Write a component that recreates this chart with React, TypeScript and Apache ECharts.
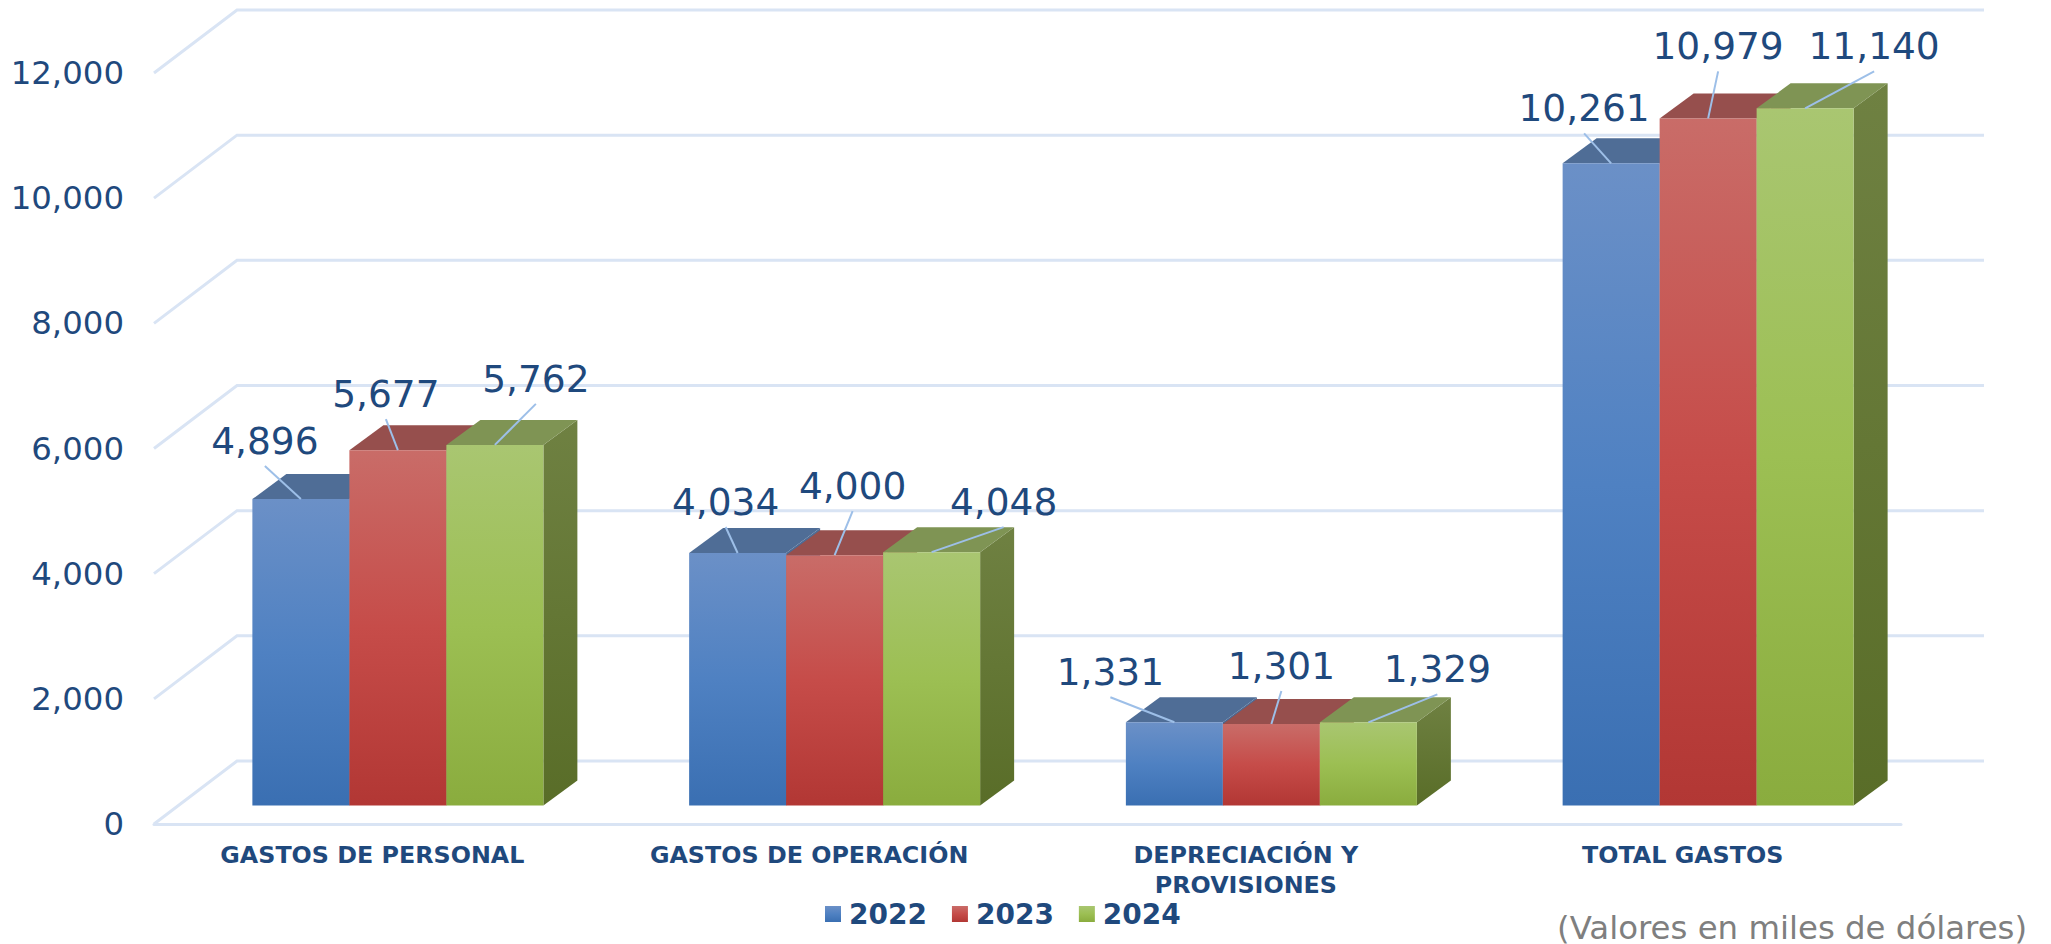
import React, { useEffect, useRef } from "react";
import * as echarts from "echarts";

const categories = ["GASTOS DE PERSONAL", "GASTOS DE OPERACIÓN", "DEPRECIACIÓN Y\nPROVISIONES", "TOTAL GASTOS"];
const years = ["2022", "2023", "2024"];
const values2022 = [4896, 4034, 1331, 10261];
const values2023 = [5677, 4000, 1301, 10979];
const values2024 = [5762, 4048, 1329, 11140];
const yTicks = [0, 2000, 4000, 6000, 8000, 10000, 12000];

// Leader-line ends, relative to the middle of each bar's top front edge (px)
const leaders2022 = [[-36, -33], [-12, -26], [-64, -25], [-27, -30]];
const leaders2023 = [[-12, -31], [18, -44], [10, -33], [10, -47]];
const leaders2024 = [[41, -41], [72, -25], [69, -28], [69, -37]];

const FONT = "'DejaVu Sans', Verdana, sans-serif";
const NAVY = "#1F497D";

const palette = [
  { stops: ["#6B90C7", "#4F81C2", "#3A6FB2"], top: "#4F6D96", side: ["#4F6D96", "#2F5487"] },
  { stops: ["#C96C68", "#C64C49", "#B23734"], top: "#964F4D", side: ["#8C4A48", "#7A2A28"] },
  { stops: ["#A9C671", "#9CBF53", "#8AAC3E"], top: "#7F9454", side: ["#6F8142", "#596D28"] },
];

const LEFT = 154;
const RIGHT = 1901;
const TOP = 73;
const BOTTOM = 824;
const FLOOR_DX = 83;
const FLOOR_DY = 63;
const BAR_SHIFT_X = 25.5;
const BAR_SHIFT_Y = 18.5;
const BAR_W = 97;
const DEPTH_X = 34;
const DEPTH_Y = 25;
const GRID_COLOR = "#D9E4F4";

const vGrad = (c: string[]) =>
  new echarts.graphic.LinearGradient(0, 0, 0, 1, c.map((color, i) => ({ offset: i / (c.length - 1), color })));

function barSeries(name: string, idx: number, vals: number[], leaders: number[][]) {
  const pal = palette[idx];
  return {
    type: "custom",
    name,
    clip: false,
    itemStyle: { color: vGrad(pal.stops) },
    encode: { x: 0, y: 1 },
    data: vals.map((v, i) => [i, v]),
    renderItem: (_p: any, api: any) => {
      const cat = api.value(0);
      const v = api.value(1);
      const [cx, rawTop] = api.coord([cat, v]);
      const [, rawBase] = api.coord([cat, 0]);
      const x = cx - 1.5 * BAR_W + idx * BAR_W + BAR_SHIFT_X;
      const yt = rawTop - BAR_SHIFT_Y;
      const yb = rawBase - BAR_SHIFT_Y;
      const mid = x + BAR_W / 2;
      const [ldx, ldy] = leaders[cat];
      return {
        type: "group",
        children: [
          {
            type: "polygon",
            shape: { points: [[x + BAR_W, yt], [x + BAR_W + DEPTH_X, yt - DEPTH_Y], [x + BAR_W + DEPTH_X, yb - DEPTH_Y], [x + BAR_W, yb]] },
            style: { fill: vGrad(pal.side) },
          },
          {
            type: "polygon",
            shape: { points: [[x, yt], [x + DEPTH_X, yt - DEPTH_Y], [x + BAR_W + DEPTH_X, yt - DEPTH_Y], [x + BAR_W, yt]] },
            style: { fill: pal.top },
          },
          { type: "rect", shape: { x, y: yt, width: BAR_W, height: yb - yt }, style: { fill: vGrad(pal.stops) } },
          {
            type: "line",
            z2: 20,
            shape: { x1: mid, y1: yt, x2: mid + ldx, y2: yt + ldy },
            style: { stroke: "#9DBFE8", lineWidth: 2 },
          },
          {
            type: "text",
            z2: 21,
            style: {
              text: v.toLocaleString("en-US"),
              x: mid + ldx,
              y: yt + ldy - 25,
              textAlign: "center",
              textVerticalAlign: "middle",
              fill: NAVY,
              fontSize: 37.5,
              fontFamily: FONT,
            },
          },
        ],
      };
    },
  };
}

export default function App() {
  const ref = useRef<HTMLDivElement>(null);
  useEffect(() => {
    document.body.style.margin = "0";
    const chart = echarts.init(ref.current!, undefined, { renderer: "svg" });
    chart.setOption({
      animation: false,
      backgroundColor: "#ffffff",
      title: {
        text: "(Valores en miles de dólares)",
        left: 1557,
        top: 912,
        padding: 0,
        textStyle: { color: "#7F7F7F", fontSize: 32.4, fontWeight: "normal", fontFamily: FONT },
      },
      legend: {
        left: 825,
        top: 900,
        padding: 0,
        icon: "rect",
        itemWidth: 16,
        itemHeight: 16,
        itemGap: 25,
        selectedMode: false,
        data: years.map((y, i) => ({ name: y, itemStyle: { color: vGrad(palette[i].stops) } })),
        textStyle: { color: NAVY, fontSize: 28, fontWeight: "bold", fontFamily: FONT, padding: [0, 0, 0, 3] },
      },
      grid: { left: LEFT, width: RIGHT - LEFT, top: TOP, height: BOTTOM - TOP, containLabel: false },
      xAxis: {
        type: "category",
        data: categories,
        axisTick: { show: false },
        axisLine: { show: true, lineStyle: { color: GRID_COLOR, width: 3 } },
        axisLabel: {
          interval: 0,
          margin: 16,
          color: NAVY,
          fontSize: 23.8,
          lineHeight: 30,
          fontWeight: "bold",
          fontFamily: FONT,
        },
      },
      yAxis: {
        type: "value",
        min: 0,
        max: 12000,
        interval: 2000,
        axisLine: { show: false },
        axisTick: { show: false },
        splitLine: { show: false },
        axisLabel: {
          margin: 30,
          color: NAVY,
          fontSize: 32.4,
          fontFamily: FONT,
          padding: [5, 0, 0, 0],
          formatter: (v: number) => v.toLocaleString("en-US"),
        },
      },
      series: [
        {
          type: "custom",
          name: "wall",
          clip: false,
          silent: true,
          encode: { x: 0, y: 1 },
          data: yTicks.map((t) => [0, t]),
          renderItem: (p: any, api: any) => {
            const y = api.coord([0, api.value(1)])[1];
            const xa = p.coordSys.x;
            const xb = xa + p.coordSys.width;
            return {
              type: "polyline",
              shape: { points: [[xa, y], [xa + FLOOR_DX, y - FLOOR_DY], [xb + FLOOR_DX, y - FLOOR_DY]] },
              style: { stroke: GRID_COLOR, lineWidth: 3, fill: "none" },
            };
          },
        },
        barSeries(years[0], 0, values2022, leaders2022),
        barSeries(years[1], 1, values2023, leaders2023),
        barSeries(years[2], 2, values2024, leaders2024),
      ],
    });
    return () => chart.dispose();
  }, []);
  return <div ref={ref} style={{ position: "absolute", left: 0, top: 0, width: 2051, height: 944 }} />;
}
